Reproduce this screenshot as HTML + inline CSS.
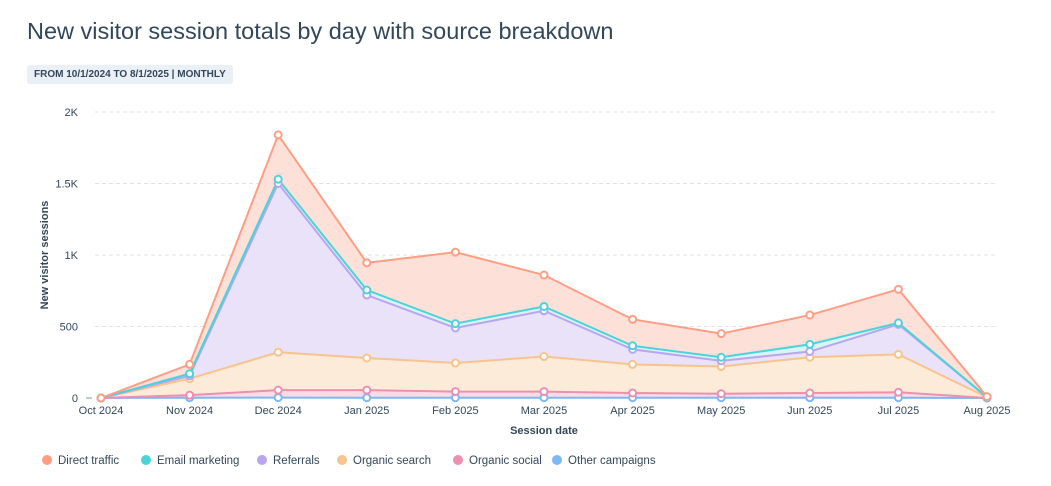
<!DOCTYPE html>
<html><head><meta charset="utf-8"><style>
body{margin:0;width:1051px;height:486px;background:#fff;font-family:"Liberation Sans",sans-serif;overflow:hidden}
#title{position:absolute;left:27px;top:18px;font-size:23.5px;color:#33475b}
#badge{position:absolute;left:27px;top:65px;background:#eaf0f6;color:#33475b;font-size:10px;font-weight:bold;padding:4px 7px;border-radius:3px}
svg{position:absolute;left:0;top:0}
</style></head><body>
<div id="title">New visitor session totals by day with source breakdown</div>
<div id="badge">FROM 10/1/2024 TO 8/1/2025 | MONTHLY</div>
<svg id="chart" width="1051" height="486"></svg>
<script>
const categories=["Oct 2024","Nov 2024","Dec 2024","Jan 2025","Feb 2025","Mar 2025","Apr 2025","May 2025","Jun 2025","Jul 2025","Aug 2025"];
const seriesNames=["Other campaigns","Organic social","Organic search","Referrals","Email marketing","Direct traffic"];
const otherCampaigns=[0,2,3,2,2,2,2,2,2,2,0];
const organicSocial=[0,18,52,53,43,43,33,28,33,38,0];
const organicSearch=[0,115,265,225,200,245,200,190,250,265,5];
const referrals=[0,20,1180,440,245,320,105,40,40,210,0];
const emailMarketing=[0,15,30,35,30,30,25,25,50,10,0];
const directTraffic=[0,65,310,190,500,220,185,165,205,235,5];
const yTicks=[0,500,1000,1500,2000];
const yTickLabels=["0","500","1K","1.5K","2K"];
const legendNames=["Direct traffic","Email marketing","Referrals","Organic search","Organic social","Other campaigns"];
const legendColors=["#ff9e85","#4cd3d9","#b9a6ee","#f8c38c","#ee8fb0","#7db8f5"];

const seriesData=[otherCampaigns,organicSocial,organicSearch,referrals,emailMarketing,directTraffic];
const strokes=["#7db8f5","#ee8fb0","#f8c38c","#b9a6ee","#4cd3d9","#ff9e85"];
const fills=["#dcebfb","#fbdce5","#fdebd9","#e9e2f9","#d8f4f5","#fde1d9"];
const legendX=[47,146,262,342,458,557];
const X0=101,X1=987,Y0=398,YT=112,YMAX=2000;
const x=i=>X0+(X1-X0)*i/(categories.length-1);
const y=v=>Y0-(Y0-YT)*v/YMAX;
const svg=document.getElementById('chart');const NS="http://www.w3.org/2000/svg";
function mk(t,a,p){const e=document.createElementNS(NS,t);for(const k in a)e.setAttribute(k,a[k]);(p||svg).appendChild(e);return e;}
yTicks.forEach((t,i)=>{
 if(t>0){const g=mk('line',{x1:95,x2:995,y1:y(t),y2:y(t),stroke:'#dfe3eb','stroke-dasharray':'4 3'});
 
 }
 const l=mk('text',{x:78,y:y(t)+4,'text-anchor':'end','font-size':11,fill:'#33475b'});l.textContent=yTickLabels[i];
 
 
});
mk('line',{x1:86,x2:92,y1:Y0,y2:Y0,stroke:'#7c98b6'});
categories.forEach((c,i)=>{const l=mk('text',{x:x(i),y:414,'text-anchor':'middle','font-size':11,fill:'#33475b'});l.textContent=c;
 
 });
let yt=mk('text',{x:48,y:255,'text-anchor':'middle','font-size':11,'font-weight':'bold',fill:'#33475b',transform:'rotate(-90 48 255)'});yt.textContent='New visitor sessions';


let xt=mk('text',{x:544,y:434,'text-anchor':'middle','font-size':11,'font-weight':'bold',fill:'#33475b'});xt.textContent='Session date';


const cum=[];let base=categories.map(()=>0);
seriesData.forEach(s=>{const top=s.map((v,i)=>base[i]+v);cum.push({lo:base,hi:top});base=top;});
for(let k=cum.length-1;k>=0;k--){const {lo,hi}=cum[k];
 let d='M'+hi.map((v,i)=>x(i)+','+y(v)).join('L')+'L'+lo.map((v,i)=>x(i)+','+y(v)).reverse().join('L')+'Z';
 const a=mk('path',{d:d,fill:fills[k]});
 
 }
for(let k=0;k<cum.length;k++){const hi=cum[k].hi;
 const l=mk('path',{d:'M'+hi.map((v,i)=>x(i)+','+y(v)).join('L'),fill:'none',stroke:strokes[k],'stroke-width':2});
 
 }
for(let k=0;k<cum.length;k++){cum[k].hi.forEach((v,i)=>{
 const p=mk('circle',{cx:x(i),cy:y(v),r:3.5,fill:'#fff',stroke:strokes[k],'stroke-width':2});
 
 });}
legendNames.forEach((n,i)=>{const g=mk('g',{});
 
 
 const lx=legendX[i];
 mk('circle',{cx:lx,cy:460,r:5,fill:legendColors[i]},g);
 const t=mk('text',{x:lx+11,y:464,'font-size':11.5,fill:'#33475b'},g);t.textContent=n;});
</script>
</body></html>
